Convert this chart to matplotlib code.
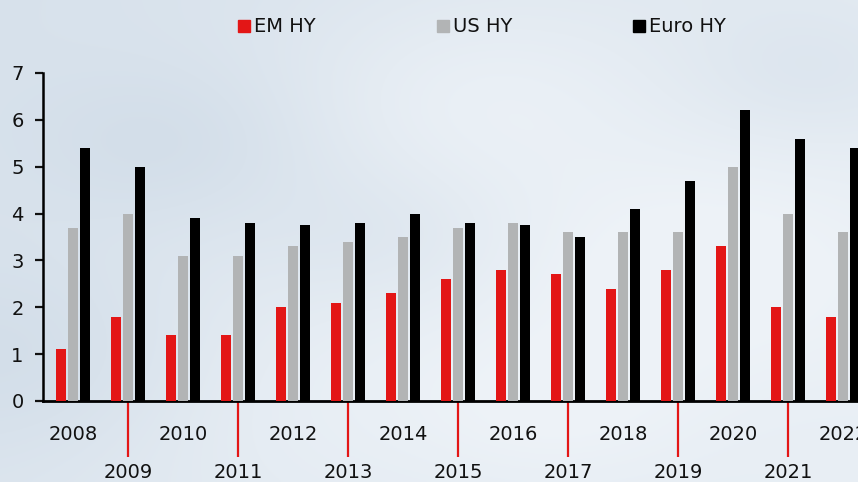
import numpy as np
import matplotlib
matplotlib.use("Agg")
import matplotlib.pyplot as plt
from matplotlib.patches import Rectangle

years = list(range(2008, 2023))
em_hy = [1.1, 1.8, 1.4, 1.4, 2.0, 2.1, 2.3, 2.6, 2.8, 2.7, 2.4, 2.8, 3.3, 2.0, 1.8]
us_hy = [3.7, 4.0, 3.1, 3.1, 3.3, 3.4, 3.5, 3.7, 3.8, 3.6, 3.6, 3.6, 5.0, 4.0, 3.6]
euro_hy = [5.4, 5.0, 3.9, 3.8, 3.75, 3.8, 4.0, 3.8, 3.75, 3.5, 4.1, 4.7, 6.2, 5.6, 5.4]
series_names = ["EM HY", "US HY", "Euro HY"]
colors = ["#e31616", "#b2b4b5", "#000000"]
yticks = [0, 1, 2, 3, 4, 5, 6, 7]

W, H = 858, 482
fig = plt.figure(figsize=(W / 100, H / 100), dpi=100)

# sky-like background
bg = fig.add_axes([0, 0, 1, 1], zorder=-10)
yy, xx = np.mgrid[0:1:240j, 0:1:430j]
base = np.zeros((240, 430, 3))
c1 = np.array([0.80, 0.85, 0.90])
c2 = np.array([0.93, 0.95, 0.97])
t = 0.35 + 0.35 * xx + 0.15 * yy
blobs = [(0.2, 0.3, 0.12, -0.25), (0.55, 0.2, 0.15, 0.3), (0.8, 0.55, 0.18, 0.35),
         (0.35, 0.8, 0.2, 0.25), (0.05, 0.75, 0.15, -0.3), (0.65, 0.85, 0.12, 0.2),
         (0.95, 0.15, 0.1, -0.2), (0.45, 0.5, 0.1, -0.15)]
for bx, by, s, a in blobs:
    t += a * np.exp(-((xx - bx) ** 2 + (yy - by) ** 2) / (2 * s ** 2))
t = np.clip(t, 0, 1)
img = c1[None, None, :] * (1 - t[..., None]) + c2[None, None, :] * t[..., None]
bg.imshow(img, aspect="auto", extent=[0, 1, 0, 1], origin="upper")
bg.axis("off")

ax = fig.add_axes([43 / W, 81 / H, 1 - 43 / W, (401 - 73) / H])
ax.patch.set_alpha(0)

x = np.arange(len(years))
bw = 0.18
off = 0.218
for i, (vals, c) in enumerate(zip([em_hy, us_hy, euro_hy], colors)):
    ax.bar(x + (i - 1) * off, vals, width=bw, color=c, zorder=3)

ax.set_xlim(-0.545, (858 - 73) / 55)
ax.set_ylim(0, 7)
ax.set_yticks(yticks)
ax.tick_params(axis="y", length=6, width=1.6, labelsize=14, pad=8, colors="#111111")
for s in ["top", "right"]:
    ax.spines[s].set_visible(False)
ax.spines["left"].set_linewidth(1.8)
ax.spines["bottom"].set_linewidth(2.0)

odd = [i for i, yv in enumerate(years) if yv % 2 == 1]
even = [i for i, yv in enumerate(years) if yv % 2 == 0]
ax.set_xticks(odd)
ax.set_xticklabels([str(years[i]) for i in odd])
ax.tick_params(axis="x", which="major", length=40, width=1.6, color="#e31616",
               labelsize=14, pad=5, labelcolor="#111111")
ax.set_xticks(even, minor=True)
ax.set_xticklabels([str(years[i]) for i in even], minor=True)
ax.tick_params(axis="x", which="minor", length=0, labelsize=14, pad=17, labelcolor="#111111")

# legend
leg_x = [238, 437, 633]
for lx, name, c in zip(leg_x, series_names, colors):
    fig.patches.append(Rectangle(((lx) / W, (H - 32) / H), 12 / W, 12 / H,
                                 transform=fig.transFigure, color=c, figure=fig))
    fig.text((lx + 16) / W, (H - 26) / H, name, fontsize=14, va="center", ha="left",
             color="#111111")

fig.savefig("out.png", dpi=100)
